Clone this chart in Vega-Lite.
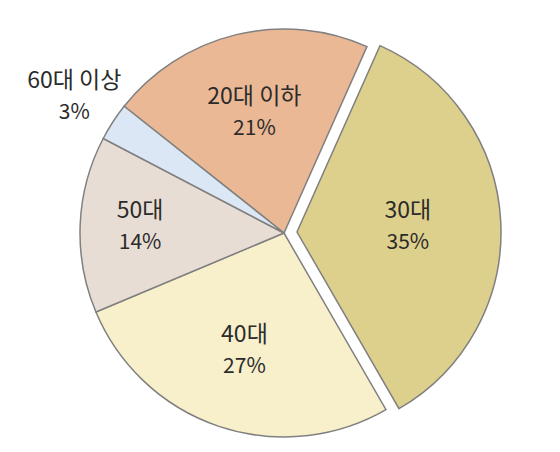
{
  "$schema": "https://vega.github.io/schema/vega-lite/v6.json",
  "description": "Age group shares, pie chart with the 30s slice pulled out.",
  "width": 408,
  "height": 408,
  "autosize": "none",
  "padding": {"left": 80, "top": 29, "right": 72, "bottom": 15},
  "background": "white",
  "data": {
    "values": [
      {"age": "20대 이하", "share": 0.21},
      {"age": "30대", "share": 0.35},
      {"age": "40대", "share": 0.27},
      {"age": "50대", "share": 0.14},
      {"age": "60대 이상", "share": 0.03}
    ]
  },
  "encoding": {
    "theta": {
      "field": "share",
      "type": "quantitative",
      "stack": true,
      "scale": {"range": [5.3826, 11.6658]}
    },
    "order": {"field": "age", "sort": "ascending"},
    "color": {
      "field": "age",
      "type": "nominal",
      "legend": null,
      "scale": {
        "domain": ["20대 이하", "30대", "40대", "50대", "60대 이상"],
        "range": ["#ebb895", "#ddcf8c", "#f8f0cb", "#e8ddd5", "#dce7f5"]
      }
    }
  },
  "layer": [
    {
      "mark": {"type": "arc", "stroke": "#808080", "strokeWidth": 1.5},
      "encoding": {
        "opacity": {
          "condition": {"test": "datum.age === '30대'", "value": 0},
          "value": 1
        }
      }
    },
    {
      "mark": {
        "type": "arc",
        "stroke": "#808080",
        "strokeWidth": 1.5,
        "xOffset": 13,
        "yOffset": -1
      },
      "encoding": {
        "opacity": {
          "condition": {"test": "datum.age === '30대'", "value": 1},
          "value": 0
        }
      }
    },
    {
      "mark": {
        "type": "text",
        "font": "Noto Sans CJK KR",
        "fontSize": 23,
        "fontWeight": 400,
        "baseline": "middle",
        "dy": -16,
        "radius": {"expr": "datum.age === '50대' ? 144 : datum.age === '60대 이상' ? 250 : 124"}
      },
      "encoding": {
        "text": {"field": "age"},
        "color": {"value": "#2b2b2b"}
      }
    },
    {
      "mark": {
        "type": "text",
        "font": "Noto Sans CJK KR",
        "fontSize": 21,
        "fontWeight": 400,
        "baseline": "middle",
        "dy": 16,
        "radius": {"expr": "datum.age === '50대' ? 144 : datum.age === '60대 이상' ? 250 : 124"}
      },
      "encoding": {
        "text": {"field": "share", "format": ".0%"},
        "color": {"value": "#2b2b2b"}
      }
    }
  ],
  "config": {"view": {"stroke": null}}
}
